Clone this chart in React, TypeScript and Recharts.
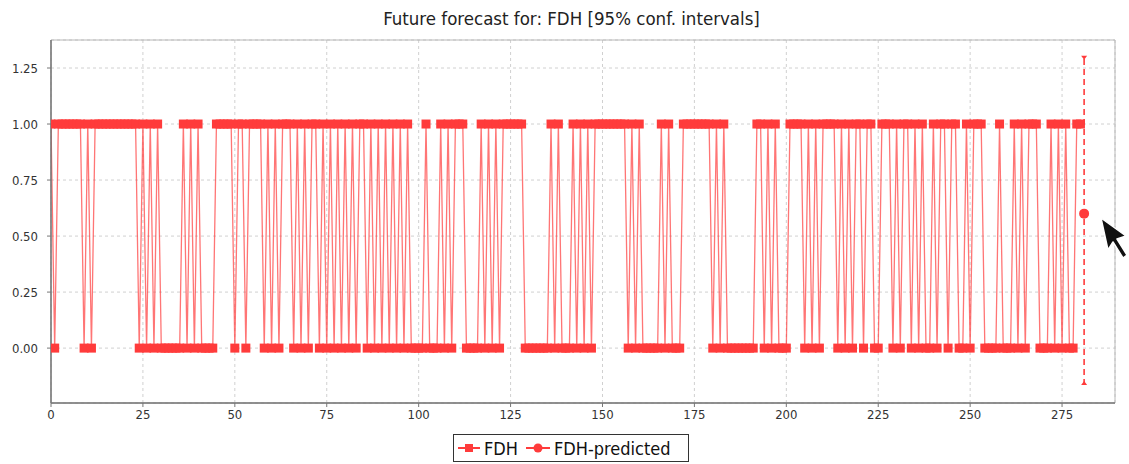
import React from "react"
import {
  ComposedChart,
  Line,
  XAxis,
  YAxis,
  CartesianGrid,
  ReferenceArea,
} from "recharts"

// observed FDH values, one row per 25 steps (0/1)
const fdh0 = [1, 0, 1, 1, 1, 1, 1, 1, 1, 0, 1, 0, 1, 1, 1, 1, 1, 1, 1, 1, 1, 1, 1, 1, 0]
const fdh25 = [1, 0, 1, 0, 1, 0, 0, 0, 0, 0, 0, 1, 0, 1, 0, 1, 0, 0, 0, 0, 1, 1, 1, 1, 1]
const fdh50 = [0, 1, 1, 0, 1, 1, 1, 1, 0, 1, 0, 1, 0, 1, 1, 1, 0, 1, 0, 1, 0, 1, 1, 0, 1]
const fdh75 = [0, 1, 0, 1, 0, 1, 0, 1, 0, 1, 1, 0, 1, 0, 1, 0, 1, 0, 1, 0, 1, 0, 1, 0, 0]
const fdh100 = [0, 0, 1, 0, 0, 0, 1, 0, 1, 0, 1, 1, 1, 0, 0, 0, 0, 1, 0, 1, 0, 1, 0, 1, 1]
const fdh125 = [1, 1, 1, 1, 0, 0, 0, 0, 0, 0, 0, 1, 0, 1, 0, 0, 0, 1, 0, 1, 0, 1, 0, 1, 1]
const fdh150 = [1, 1, 1, 1, 1, 1, 1, 0, 1, 0, 1, 0, 0, 0, 0, 0, 1, 0, 1, 0, 0, 0, 1, 1, 1]
const fdh175 = [1, 1, 1, 1, 1, 0, 1, 0, 1, 0, 0, 0, 0, 0, 0, 0, 0, 1, 1, 0, 1, 0, 1, 0, 0]
const fdh200 = [0, 1, 1, 1, 1, 0, 1, 0, 1, 0, 1, 1, 1, 1, 0, 1, 0, 1, 0, 1, 1, 0, 1, 1, 0]
const fdh225 = [0, 1, 1, 1, 0, 1, 0, 1, 1, 0, 1, 0, 1, 0, 0, 1, 0, 1, 1, 0, 1, 1, 0, 0, 1]
const fdh250 = [0, 1, 1, 1, 0, 0, 0, 0, 1, 0, 0, 0, 1, 0, 1, 0, 1, 1, 1, 0, 0, 0, 1, 0, 1]
const fdh275 = [0, 1, 0, 0, 1, 1]

// forecast for the next step with its 95% interval
const forecastStep = [281]
const forecastValue = [0.6]
const forecastLower = [-0.165]
const forecastUpper = [1.305]

const xTicks = [0, 25, 50, 75, 100, 125, 150, 175, 200, 225, 250, 275]
const yTicks = [0, 0.25, 0.5, 0.75, 1, 1.25]

const RED = "#ff3b3b"
const FONT = "'DejaVu Sans Condensed', 'DejaVu Sans', sans-serif"

const fdhAll = [
  ...fdh0, ...fdh25, ...fdh50, ...fdh75, ...fdh100, ...fdh125,
  ...fdh150, ...fdh175, ...fdh200, ...fdh225, ...fdh250, ...fdh275,
]
const seriesData = fdhAll.map((v, i) => ({ t: i, fdh: v }))
const predData = forecastStep.map((t, i) => ({ t, pred: forecastValue[i] }))
const ciData = [
  { t: forecastStep[0], ci: forecastLower[0] },
  { t: forecastStep[0], ci: forecastUpper[0] },
]

const SquareDot = (props: any) => {
  const { cx, cy, index } = props
  if (cx == null || cy == null) return null
  return <rect key={`sq-${index}`} x={cx - 4.5} y={cy - 4.5} width={9} height={9} fill={RED} />
}

const CapDot = (props: any) => {
  const { cx, cy, index } = props
  if (cx == null || cy == null) return null
  // bottom end (index 0) points up, top end points down
  const d = index === 0
    ? `M${cx - 3},${cy} L${cx + 3},${cy} L${cx},${cy - 4} Z`
    : `M${cx - 3},${cy} L${cx + 3},${cy} L${cx},${cy + 4} Z`
  return <path key={`cap-${index}`} d={d} fill={RED} />
}

export default function App() {
  return (
    <div style={{ position: "absolute", left: 0, top: 0, width: 1129, height: 464, background: "#fff", fontFamily: FONT, fontStretch: "condensed" }}>
      <div style={{ position: "absolute", top: 7, left: 0, width: 1143, textAlign: "center", fontSize: 18.5, color: "#222", lineHeight: "24px" }}>
        Future forecast for: FDH [95% conf. intervals]
      </div>

      <ComposedChart width={1129} height={464} margin={{ top: 40, right: 14, bottom: 0, left: 0 }}>
        <CartesianGrid stroke="#d0d0d0" strokeDasharray="3 3" />
        <ReferenceArea x1={0} x2={289.4} y1={-0.245} y2={1.375} fill="none" stroke="#b8b8b8" ifOverflow="visible" />
        <XAxis
          type="number"
          dataKey="t"
          domain={[0, 289.4]}
          ticks={xTicks}
          allowDataOverflow
          height={61}
          tickSize={4}
          tickMargin={3}
          axisLine={{ stroke: "#777", strokeWidth: 1.5 }}
          tickLine={{ stroke: "#777" }}
          tick={{ fontSize: 13, fill: "#333", fontFamily: FONT, fontStretch: "condensed" }}
        />
        <YAxis
          type="number"
          domain={[-0.245, 1.375]}
          ticks={yTicks}
          allowDataOverflow
          width={51}
          tickSize={4}
          tickMargin={9}
          tickFormatter={(v: number) => v.toFixed(2)}
          axisLine={{ stroke: "#777", strokeWidth: 1.5 }}
          tickLine={{ stroke: "#777" }}
          tick={{ fontSize: 13, fill: "#333", fontFamily: FONT, fontStretch: "condensed" }}
        />
        <Line
          data={seriesData}
          dataKey="fdh"
          type="linear"
          stroke={RED}
          strokeOpacity={0.7}
          strokeWidth={1.3}
          dot={SquareDot}
          activeDot={false}
          isAnimationActive={false}
        />
        <Line
          data={ciData}
          dataKey="ci"
          type="linear"
          stroke={RED}
          strokeWidth={1.6}
          strokeDasharray="6 4"
          dot={CapDot}
          activeDot={false}
          isAnimationActive={false}
        />
        <Line
          data={predData}
          dataKey="pred"
          stroke={RED}
          dot={{ r: 5, fill: RED, stroke: RED, strokeWidth: 0 }}
          activeDot={false}
          isAnimationActive={false}
        />
      </ComposedChart>

      {/* legend box */}
      <div
        style={{
          position: "absolute", left: 453, top: 434, width: 236, height: 28,
          border: "1px solid #333", display: "flex", alignItems: "center",
          fontSize: 18, color: "#111", paddingLeft: 4, boxSizing: "border-box",
        }}
      >
        <svg width={22} height={12} style={{ marginRight: 4 }}>
          <line x1={0} y1={6} x2={22} y2={6} stroke={RED} strokeWidth={2} />
          <rect x={7} y={2} width={8} height={8} fill={RED} />
        </svg>
        <span style={{ marginRight: 8 }}>FDH</span>
        <svg width={24} height={12} style={{ marginRight: 4 }}>
          <line x1={0} y1={6} x2={24} y2={6} stroke={RED} strokeWidth={2} />
          <circle cx={12} cy={6} r={4.5} fill={RED} />
        </svg>
        <span>FDH-predicted</span>
      </div>

      {/* mouse pointer that sits in the screenshot */}
      <svg width={40} height={50} style={{ position: "absolute", left: 1096, top: 214 }}>
        <path
          d="M5,4 L12,36 L17,28 L27,44 L31,41 L21,25 L30,22 Z"
          fill="#111"
          stroke="#fff"
          strokeWidth={1.5}
          strokeLinejoin="round"
        />
      </svg>
    </div>
  )
}
